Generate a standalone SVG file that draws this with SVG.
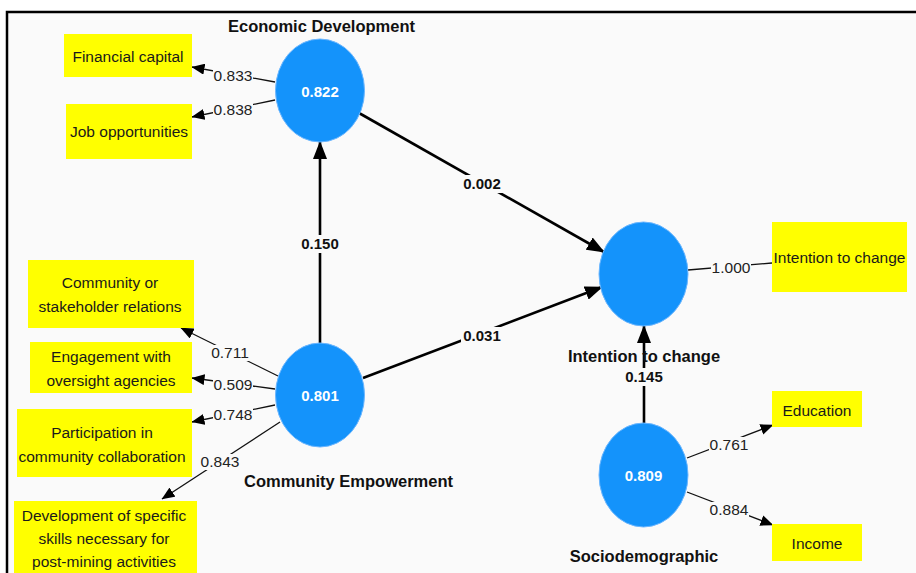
<svg xmlns="http://www.w3.org/2000/svg" width="916" height="573" viewBox="0 0 916 573">
<style>
.box{fill:#ffff00}
.lv{fill:#1493fb;stroke:#6bb6ff;stroke-width:1}
.bt{font-family:"Liberation Sans",Arial,sans-serif;font-size:15.5px;fill:#1a1a1a;text-anchor:middle}
.num{font-family:"Liberation Sans",Arial,sans-serif;font-size:15.5px;fill:#222;text-anchor:middle}
.pc{font-family:"Liberation Sans",Arial,sans-serif;font-size:15px;font-weight:bold;fill:#111;text-anchor:middle}
.bg{fill:#fafafa}
.name{font-family:"Liberation Sans",Arial,sans-serif;font-size:16.5px;font-weight:bold;fill:#111;text-anchor:middle}
.val{font-family:"Liberation Sans",Arial,sans-serif;font-size:15px;font-weight:bold;fill:#fff;text-anchor:middle}
.thick{stroke:#000;stroke-width:2.6;fill:none}
.thin{stroke:#111;stroke-width:1.3;fill:none}
</style>
<defs>
<marker id="ah" viewBox="0 0 18 14" refX="17" refY="7" markerWidth="18" markerHeight="14" markerUnits="userSpaceOnUse" orient="auto"><path d="M0,0 L18,7 L0,14 z" fill="#000"/></marker>
<marker id="as" viewBox="0 0 13 11" refX="12.5" refY="5.5" markerWidth="13" markerHeight="11" markerUnits="userSpaceOnUse" orient="auto"><path d="M0,0 L13,5.5 L0,11 z" fill="#000"/></marker>
</defs>
<rect x="0" y="0" width="916" height="573" fill="#ffffff"/>
<rect x="7" y="12" width="909" height="561" fill="#fafafa"/>
<path d="M7,573 V12 H916" stroke="#000" stroke-width="2.5" fill="none"/>

<g id="connectors">
<line class="thick" x1="359" y1="113" x2="604" y2="252" marker-end="url(#ah)"/>
<line class="thick" x1="363" y1="378" x2="602" y2="287" marker-end="url(#ah)"/>
<line class="thick" x1="320" y1="343" x2="320" y2="142" marker-end="url(#ah)"/>
<line class="thick" x1="644" y1="423" x2="644" y2="326" marker-end="url(#ah)"/>
<line class="thin" x1="275" y1="82" x2="192" y2="67" marker-end="url(#as)"/>
<line class="thin" x1="275" y1="100" x2="192" y2="117" marker-end="url(#as)"/>
<line class="thin" x1="278" y1="376" x2="181" y2="328" marker-end="url(#as)"/>
<line class="thin" x1="275" y1="389" x2="192" y2="378" marker-end="url(#as)"/>
<line class="thin" x1="275" y1="405" x2="192" y2="422" marker-end="url(#as)"/>
<line class="thin" x1="280" y1="422" x2="162" y2="499" marker-end="url(#as)"/>
<line class="thin" x1="688" y1="270" x2="772" y2="263"/>
<line class="thin" x1="687" y1="458" x2="773" y2="425" marker-end="url(#as)"/>
<line class="thin" x1="687" y1="492" x2="773" y2="525" marker-end="url(#as)"/>
<rect class="bg" x="213" y="68" width="40" height="16"/><text class="num" x="233" y="81">0.833</text>
<rect class="bg" x="213" y="102" width="40" height="16"/><text class="num" x="233" y="115">0.838</text>
<rect class="bg" x="210" y="345" width="40" height="16"/><text class="num" x="230" y="358">0.711</text>
<rect class="bg" x="213" y="377" width="40" height="16"/><text class="num" x="233" y="390">0.509</text>
<rect class="bg" x="213" y="407" width="40" height="16"/><text class="num" x="233" y="420">0.748</text>
<rect class="bg" x="200" y="454" width="40" height="16"/><text class="num" x="220" y="467">0.843</text>
<rect class="bg" x="711" y="260" width="40" height="16"/><text class="num" x="731" y="273">1.000</text>
<rect class="bg" x="709" y="437" width="40" height="16"/><text class="num" x="729" y="450">0.761</text>
<rect class="bg" x="709" y="502" width="40" height="16"/><text class="num" x="729" y="515">0.884</text>
<rect class="bg" x="461" y="175" width="42" height="18"/><text class="pc" x="482" y="189">0.002</text>
<rect class="bg" x="461" y="327" width="42" height="18"/><text class="pc" x="482" y="341">0.031</text>
<rect class="bg" x="299" y="235" width="42" height="18"/><text class="pc" x="320" y="249">0.150</text>
<rect class="bg" x="623" y="368" width="42" height="18"/><text class="pc" x="644" y="382">0.145</text>
</g>

<g id="economic-development">
<ellipse class="lv" cx="320" cy="90.5" rx="44.5" ry="51.5"/>
<text class="val" x="320" y="97">0.822</text>
<text class="name" x="321.5" y="32">Economic Development</text>
</g>
<g id="community-empowerment">
<ellipse class="lv" cx="320" cy="395" rx="44.5" ry="52"/>
<text class="val" x="320" y="401">0.801</text>
<text class="name" x="348.5" y="487">Community Empowerment</text>
</g>
<g id="intention-to-change">
<ellipse class="lv" cx="643.5" cy="274" rx="44.5" ry="52"/>
<text class="name" x="644" y="362">Intention to change</text>
</g>
<g id="sociodemographic">
<ellipse class="lv" cx="643.5" cy="475" rx="44.5" ry="52"/>
<text class="val" x="643.5" y="481">0.809</text>
<text class="name" x="644" y="562">Sociodemographic</text>
</g>

<g id="financial-capital"><rect class="box" x="64" y="34" width="128" height="43"/><text class="bt" x="128" y="62">Financial capital</text></g>
<g id="job-opportunities"><rect class="box" x="66" y="104" width="126" height="55"/><text class="bt" x="129" y="137">Job opportunities</text></g>
<g id="community-relations"><rect class="box" x="28" y="260" width="166" height="68"/><text class="bt" x="110" y="288">Community or</text><text class="bt" x="110" y="312">stakeholder relations</text></g>
<g id="engagement"><rect class="box" x="30" y="342" width="162" height="51"/><text class="bt" x="111" y="362">Engagement with</text><text class="bt" x="111" y="386">oversight agencies</text></g>
<g id="participation"><rect class="box" x="17" y="409" width="175" height="68"/><text class="bt" x="102" y="438">Participation in</text><text class="bt" x="102" y="462">community collaboration</text></g>
<g id="skills"><rect class="box" x="14" y="501" width="183" height="72"/><text class="bt" x="104" y="521">Development of specific</text><text class="bt" x="104" y="544">skills necessary for</text><text class="bt" x="104" y="567">post-mining activities</text></g>
<g id="intention-indicator"><rect class="box" x="772" y="222" width="135" height="70"/><text class="bt" x="839.5" y="263">Intention to change</text></g>
<g id="education"><rect class="box" x="772" y="391" width="90" height="36"/><text class="bt" x="817" y="416">Education</text></g>
<g id="income"><rect class="box" x="772" y="524" width="90" height="37"/><text class="bt" x="817" y="549">Income</text></g>
</svg>
